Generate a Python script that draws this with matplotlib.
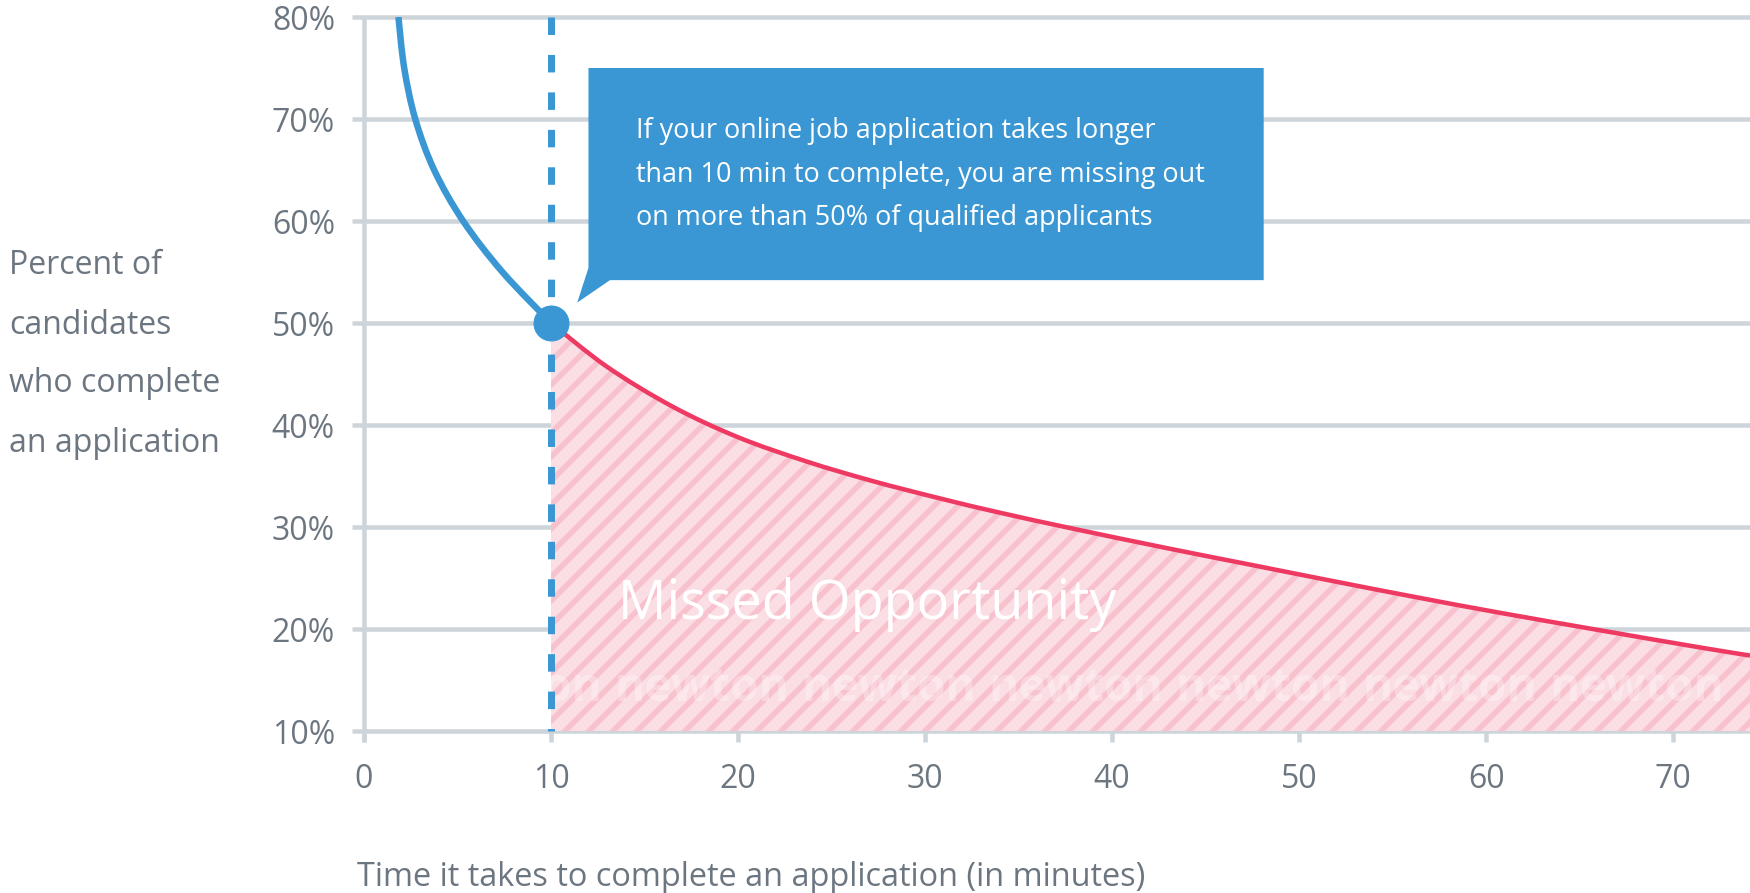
import numpy as np
import matplotlib.pyplot as plt
from matplotlib.patches import Polygon, PathPatch
from matplotlib.path import Path

# Data
blue_x = [1.84, 2.15, 2.74, 3.75, 5.3, 7.4, 10]
blue_y = [80, 75, 70, 65, 60, 55, 50]
red_x = [10, 13, 16.5, 20, 23.7, 27.2, 30.8, 34, 38, 43, 47.4, 51.8, 56.3, 60.7, 66, 71.4, 74.1]
red_y = [50, 45.7, 41.8, 38.8, 36.4, 34.5, 32.8, 31.4, 29.8, 27.9, 26.3, 24.7, 23.1, 21.6, 19.9, 18.2, 17.4]
cutoff_x, cutoff_y = 10, 50
x_ticks = [0, 10, 20, 30, 40, 50, 60, 70]
y_ticks = [10, 20, 30, 40, 50, 60, 70, 80]
y_labels = ['10%', '20%', '30%', '40%', '50%', '60%', '70%', '80%']
ylabel_lines = ['Percent of', 'candidates', 'who complete', 'an application']
xlabel = 'Time it takes to complete an application (in minutes)'
callout_lines = ['If your online job application takes longer',
                 'than 10 min to complete, you are missing out',
                 'on more than 50% of qualified applicants']

BLUE = '#3a97d4'
RED = '#ee3a62'
GRID = '#cdd4da'
TEXT = '#6c7680'
HATCH = '#f8c1ce'

plt.rcParams['font.family'] = ['Open Sans', 'DejaVu Sans']
plt.rcParams['hatch.linewidth'] = 5.5


def spline_path(xs, ys):
    # smooth (catmull-rom style) path through the read points
    p = np.column_stack([xs, ys]).astype(float)
    n = len(p)
    verts, codes = [p[0]], [Path.MOVETO]
    for i in range(n - 1):
        p0 = p[i - 1] if i > 0 else p[i]
        p3 = p[i + 2] if i + 2 < n else p[i + 1]
        verts += [p[i] + (p[i + 1] - p0) / 6, p[i + 1] - (p3 - p[i]) / 6, p[i + 1]]
        codes += [Path.CURVE4] * 3
    return verts, codes


W, H = 1750, 893
fig = plt.figure(figsize=(W / 72, H / 72), dpi=72)
ax = fig.add_axes([364 / W, 162 / H, (W - 364) / W, (731 - 17) / H])
ax.set_xlim(0, 74.1)
ax.set_ylim(10, 80)
for s in ax.spines.values():
    s.set_visible(False)

# grid + axis
ax.hlines(y_ticks, -0.65, 74.1, color=GRID, lw=4.5, clip_on=False, zorder=1)
ax.vlines(0, 8.9, 80, color=GRID, lw=4.5, clip_on=False, zorder=1)
ax.set_xticks(x_ticks)
ax.set_yticks(y_ticks)
ax.set_yticklabels(y_labels)
ax.tick_params(axis='x', length=11, width=4.5, color=GRID, pad=21,
               labelsize=32, labelcolor=TEXT)
ax.tick_params(axis='y', length=0, pad=29, labelsize=32, labelcolor=TEXT)

# missed opportunity area
rv, rc = spline_path(red_x, red_y)
fill_path = Path(rv + [(red_x[-1], 10), (red_x[0], 10), (red_x[0], red_y[0])],
                 rc + [Path.LINETO, Path.LINETO, Path.CLOSEPOLY])
fill = PathPatch(fill_path, facecolor='#fbdde4', edgecolor=HATCH, hatch='/',
                 lw=0, zorder=2)
ax.add_patch(fill)
ax.text(13.6, 21.0, 'Missed Opportunity', color='white', fontsize=54,
        va='baseline', ha='left', zorder=4)
for k in range(7):
    wm = ax.text(3.4 + 10 * k, 12.9, 'newton', color='white', alpha=0.32,
                 fontsize=46, fontweight='bold', va='baseline', ha='left', zorder=3)
    wm.set_clip_path(fill_path, ax.transData)

# curves
bv, bc = spline_path(blue_x, blue_y)
ax.add_patch(PathPatch(Path(bv, bc), facecolor='none', edgecolor=BLUE, lw=6.5,
                       capstyle='butt', zorder=5))
ax.add_patch(PathPatch(Path(rv, rc), facecolor='none', edgecolor=RED, lw=4.5,
                       zorder=5))
ax.plot([cutoff_x, cutoff_x], [80, 10], color=BLUE, lw=7,
        dashes=(2.5, 2.85), zorder=6, clip_on=False)
ax.plot(cutoff_x, cutoff_y, 'o', color=BLUE, ms=35, zorder=7)

# callout box
box = Polygon([(12.0, 75.0), (48.1, 75.0), (48.1, 54.2), (13.15, 54.2),
               (11.4, 52.0), (12.0, 55.4)], closed=True, facecolor=BLUE,
              edgecolor='none', zorder=8, clip_on=False)
ax.add_patch(box)
for i, line in enumerate(callout_lines):
    ax.text(14.55, 68.8 - 4.25 * i, line, color='white', fontsize=27,
            va='center', ha='left', zorder=9)

# axis titles
for i, line in enumerate(ylabel_lines):
    fig.text(9 / W, 1 - (266 + 59 * i) / H, line, color=TEXT, fontsize=32,
             va='center', ha='left')
fig.text(357 / W, 1 - 877 / H, xlabel, color=TEXT, fontsize=32.5,
         va='center', ha='left')

fig.savefig('out.png', dpi=72)
